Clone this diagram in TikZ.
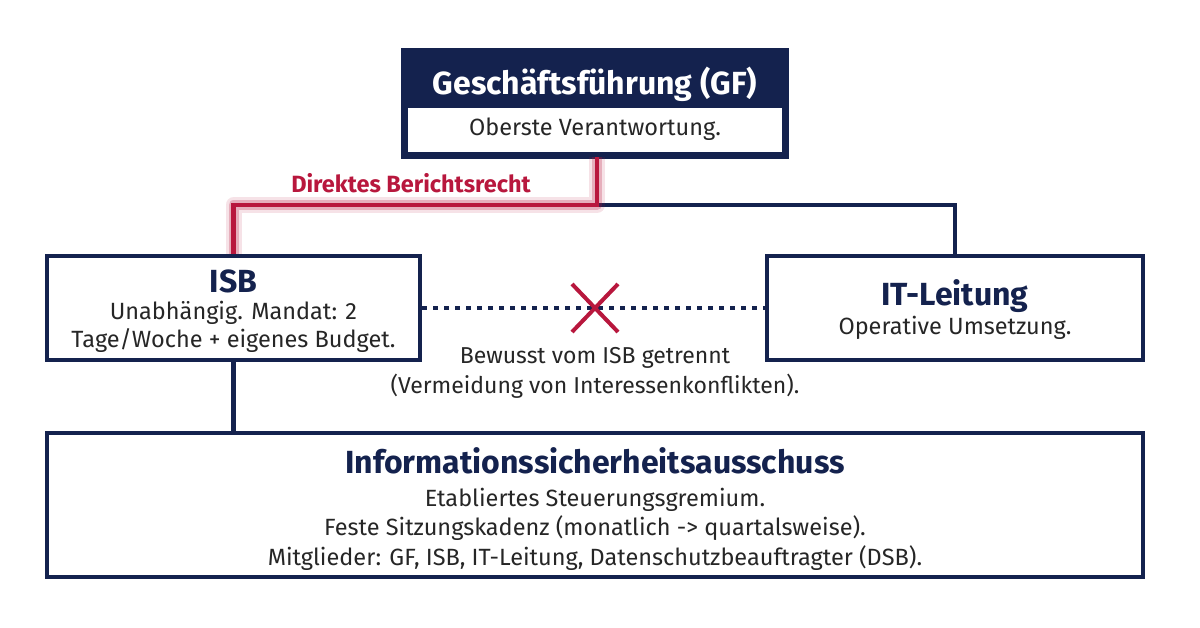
\documentclass[tikz,border=0pt]{standalone}
\usepackage{fontspec}
\setmainfont{Fira Sans}
\usetikzlibrary{shapes.misc}

\definecolor{navy}{HTML}{14224E}
\definecolor{crimson}{HTML}{B8173D}

\tikzset{
	box/.style={draw=navy, line width=4.5pt, fill=white, align=center, inner sep=0pt},
	head/.style={font=\fontsize{32}{36}\selectfont\bfseries, text=navy},
	body/.style={font=\fontsize{23.5}{29.5}\selectfont, text=black!85},
	navyline/.style={draw=navy, line width=4.5pt},
	redline/.style={draw=crimson, line width=4.5pt}
}

\begin{document}
\begin{tikzpicture}[x=1pt, y=-1pt]
			\useasboundingbox[fill=white] (0, 0) rectangle (1200, 627);
			% boxes
			\node (gf) [box, fill=navy, minimum width=384pt, minimum height=107pt] at (595, 103.5) {};
			\node (gftitle) [head, text=white] at (595, 84) {Geschäftsführung (GF)};
			\node (gfsub) [fill=white, inner sep=0pt, minimum width=374pt, minimum height=44pt, body] at (595, 129.5) {Oberste Verantwortung.};
			\node (isb) [box, minimum width=373pt, minimum height=104pt] at (233.5, 308) {};
			\node (isbtitle) [head] at (233.5, 281) {ISB};
			\node (isbtext) [body, align=center, font=\fontsize{23.5}{27.5}\selectfont] at (233.5, 327) {Unabhängig. Mandat: 2\\Tage/Woche + eigenes Budget.};
			\node (it) [box, minimum width=376pt, minimum height=104pt] at (955, 308) {};
			\node (ittitle) [head] at (955, 296) {IT-Leitung};
			\node (ittext) [body] at (955, 328) {Operative Umsetzung.};
			\node (info) [box, minimum width=1096pt, minimum height=144pt] at (595, 505) {};
			\node (infotitle) [head] at (595, 461) {Informationssicherheitsausschuss};
			\node (infotext) [body, align=center] at (595, 529) {Etabliertes Steuerungsgremium.\\Feste Sitzungskadenz (monatlich -> quartalsweise).\\Mitglieder: GF, ISB, IT-Leitung, Datenschutzbeauftragter (DSB).};
			% connectors
			\coordinate (split) at (597, 205);
			\draw[navyline] (split) -| (it.north);
			\foreach \w/\o in {16/0.12, 10/0.25}
				\draw[draw=crimson, line width=\w pt, opacity=\o, line join=round] (597, 157) -- (split) -| (isb.north);
			\draw[redline] (597, 157) -- (split) -| (isb.north);
			\draw[navyline] (isb.south) -- (isb.south |- info.north);
			\draw[navyline, dash pattern=on 5pt off 6pt] (isb.east) -- (it.west);
			\node (cross) [cross out, draw=crimson, line width=4pt, minimum width=42pt, minimum height=44pt] at (595, 308) {};
			\node (lbl) [font=\fontsize{23.5}{27}\selectfont\bfseries, text=crimson] at (411, 183) {Direktes Berichtsrecht};
			\node (note) [body, align=center, font=\fontsize{23}{30}\selectfont] at (595, 373) {Bewusst vom ISB getrennt\\(Vermeidung von Interessenkonflikten).};
		\end{tikzpicture}
\end{document}
